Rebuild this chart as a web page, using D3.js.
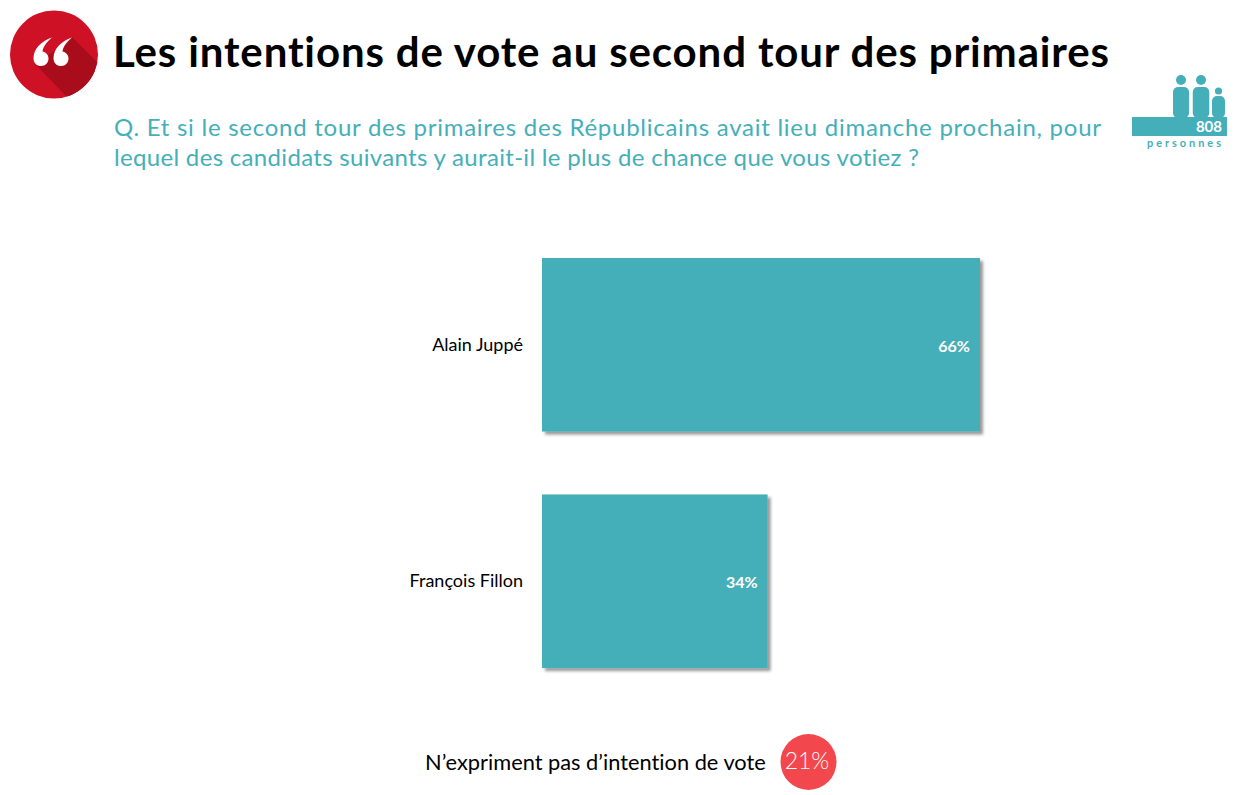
<!DOCTYPE html>
<html lang="fr">
<head>
<meta charset="utf-8">
<script src="https://d3js.org/d3.v7.min.js"></script>
<style>
  html, body { margin: 0; padding: 0; background: #fff; }
  svg { display: block; }
  text { font-family: Lato, "Open Sans", sans-serif; font-variant-ligatures: none; }
</style>
</head>
<body>
<svg id="chart" width="1243" height="795"></svg>
<script>
// Chart data
const candidates = ['Alain Juppé', 'François Fillon'];
const voteShares = [66, 34];
const titleText = 'Les intentions de vote au second tour des primaires';
const questionLines = [
    'Q. Et si le second tour des primaires des Républicains avait lieu dimanche prochain, pour',
    'lequel des candidats suivants y aurait-il le plus de chance que vous votiez ?'
];
const sampleCount = '808';
const sampleLabel = 'personnes';
const abstentionLabel = 'N’expriment pas d’intention de vote';
const abstentionShare = 21;

const TEAL = '#45afb9';
const RED = '#cf1126';

const svg = d3.select('#chart');

// Drop shadow on the bars
const defs = svg.append('defs');
const shadow = defs.append('filter')
    .attr('id', 'bar-shadow')
    .attr('x', '-5%')
    .attr('y', '-5%')
    .attr('width', '112%')
    .attr('height', '112%');
shadow.append('feDropShadow')
    .attr('dx', 3)
    .attr('dy', 3)
    .attr('stdDeviation', 1.8)
    .attr('flood-color', '#000')
    .attr('flood-opacity', 0.4);

defs.append('clipPath').attr('id', 'badge-clip')
    .append('circle').attr('cx', 54).attr('cy', 54.5).attr('r', 44);

// Quote badge
const badge = svg.append('g');
badge.append('circle')
    .attr('cx', 54).attr('cy', 54.5).attr('r', 44)
    .attr('fill', RED);
badge.append('path')
    .attr('clip-path', 'url(#badge-clip)')
    .attr('d', 'M72 37 L110 75 L110 110 L70 100 L36 65 Z')
    .attr('fill', '#a90c1b');
// Two opening quote marks
[0, 20].forEach(dx => {
    badge.append('path')
        .attr('transform', `translate(${dx},0)`)
        .attr('d', 'M52 37.5 C41 41 33.5 49 33.5 58 C33.5 63.5 37 66 41 66 C45.5 66 48.5 62.5 48.5 58.5 C48.5 54.5 45.5 52 42.5 51.5 C43 47 46.5 42 52 37.5 Z')
        .attr('fill', '#fff');
});

// Title and question
svg.append('text')
    .attr('x', 113)
    .attr('y', 67)
    .attr('font-size', 42)
    .attr('font-weight', 700)
    .attr('fill', '#000')
    .attr('textLength', 996)
    .attr('lengthAdjust', 'spacing')
    .text(titleText);

svg.append('text')
    .attr('x', 114)
    .attr('y', 136)
    .attr('font-size', 24)
    .attr('fill', TEAL)
    .attr('textLength', 987)
    .attr('lengthAdjust', 'spacing')
    .text(questionLines[0]);

svg.append('text')
    .attr('x', 114)
    .attr('y', 166)
    .attr('font-size', 24)
    .attr('fill', TEAL)
    .attr('textLength', 805)
    .attr('lengthAdjust', 'spacing')
    .text(questionLines[1]);

// Sample size icon
const people = svg.append('g').attr('fill', TEAL);
[[1181, 16, 80, 5, 87], [1201, 16.5, 80, 5, 87], [1218.5, 13, 91, 3.6, 96]].forEach(([cx, w, headY, headR, bodyTop]) => {
    people.append('circle')
        .attr('cx', cx)
        .attr('cy', headY)
        .attr('r', headR);
    people.append('rect')
        .attr('x', cx - w / 2)
        .attr('y', bodyTop)
        .attr('width', w)
        .attr('height', 118 - bodyTop)
        .attr('rx', 5);
});
people.append('rect')
    .attr('x', 1132).attr('y', 117)
    .attr('width', 95).attr('height', 19);
svg.append('text')
    .attr('x', 1222)
    .attr('y', 132)
    .attr('text-anchor', 'end')
    .attr('font-size', 15)
    .attr('font-weight', 700)
    .attr('fill', '#fff')
    .text(sampleCount);
svg.append('text')
    .attr('x', 1147)
    .attr('y', 147)
    .attr('font-size', 11)
    .attr('font-weight', 700)
    .attr('textLength', 74)
    .attr('lengthAdjust', 'spacing')
    .attr('fill', TEAL)
    .text(sampleLabel);

// Scales
const x = d3.scaleLinear().domain([0, 100]).range([542, 1205.6]);
const y = d3.scaleBand()
    .domain(candidates)
    .range([226.5, 699.5])
    .paddingInner(0.266)
    .paddingOuter(0.133);

const rows = candidates.map((name, i) => ({ name, value: voteShares[i] }));

svg.selectAll('.bar')
    .data(rows)
    .enter()
    .append('rect')
    .attr('class', 'bar')
    .attr('x', x(0))
    .attr('y', d => y(d.name))
    .attr('width', d => x(d.value) - x(0))
    .attr('height', y.bandwidth())
    .attr('fill', TEAL)
    .attr('filter', 'url(#bar-shadow)');

svg.selectAll('.bar-value')
    .data(rows)
    .enter()
    .append('text')
    .attr('class', 'bar-value')
    .attr('x', d => x(d.value) - 10)
    .attr('y', d => y(d.name) + y.bandwidth() / 2 + 7)
    .attr('text-anchor', 'end')
    .attr('font-size', 16)
    .attr('font-weight', 700)
    .attr('fill', '#fff')
    .text(d => `${d.value}%`);

svg.selectAll('.bar-name')
    .data(rows)
    .enter()
    .append('text')
    .attr('class', 'bar-name')
    .attr('x', 523)
    .attr('y', d => y(d.name) + y.bandwidth() / 2 + 6)
    .attr('text-anchor', 'end')
    .attr('font-size', 18)
    .attr('fill', '#000')
    .text(d => d.name);

// Footer note
svg.append('text')
    .attr('x', 425)
    .attr('y', 770)
    .attr('font-size', 21.8)
    .attr('fill', '#000')
    .text(abstentionLabel);
svg.append('circle')
    .attr('cx', 808.5).attr('cy', 762).attr('r', 28)
    .attr('fill', '#f2474d');
svg.append('text')
    .attr('x', 807)
    .attr('y', 769)
    .attr('text-anchor', 'middle')
    .attr('font-size', 23)
    .attr('font-weight', 300)
    .attr('fill', '#fff')
    .text(`${abstentionShare}%`);
</script>
</body>
</html>
